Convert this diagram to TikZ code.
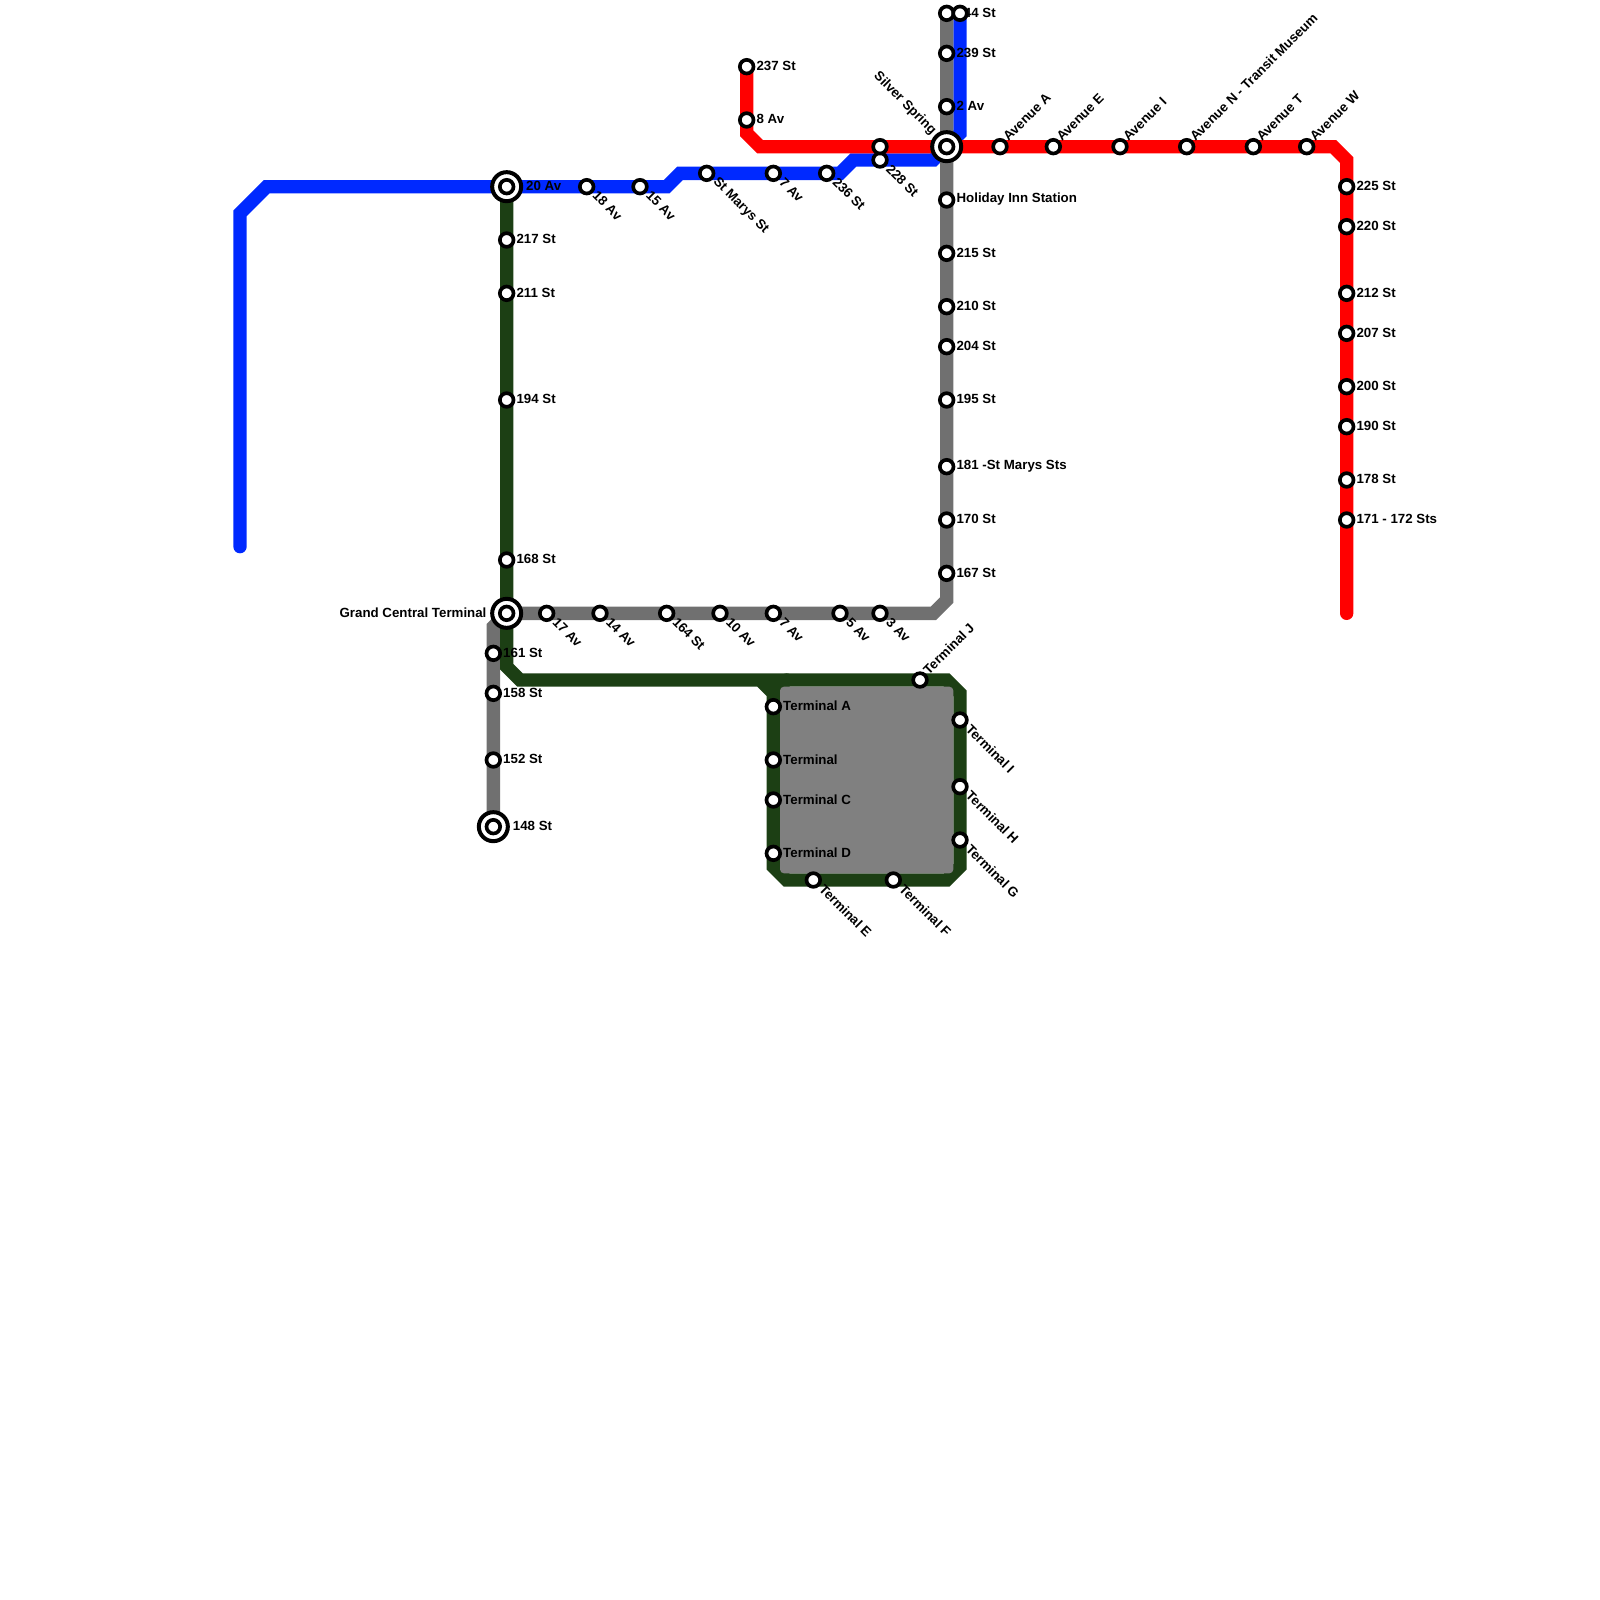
\documentclass[tikz,border=0pt]{standalone}
\usepackage{fontspec}
\setmainfont{Liberation Sans}
\pgfdeclarelayer{lines}
\pgfsetlayers{lines,main}
\definecolor{lineblue}{HTML}{0029FF}
\definecolor{linered}{HTML}{FF0000}
\definecolor{linegray}{HTML}{707070}
\definecolor{linegreen}{HTML}{1C3F14}
\definecolor{yardgray}{HTML}{808080}
\tikzset{
    route/.style={line width=0.4cm, line join=miter, line cap=round},
    station/.style={circle, draw=black, fill=white, line width=0.11cm, minimum size=0.41cm, inner sep=0pt},
    hub/.style={circle, draw=black, fill=white, line width=0.12cm, minimum size=0.87cm, inner sep=0pt},
    label/.style={font=\fontsize{11.35}{13}\selectfont\bfseries, inner sep=0pt, text=black},
    lblright/.style={label, anchor=west},
    lbldown/.style={label, anchor=west, rotate=-45},
    lblup/.style={label, anchor=west, rotate=45},
}
\begin{document}
\begin{tikzpicture}[x=0.4cm, y=-0.4cm]
    \useasboundingbox (0,0) rectangle (120,120);
    % labels first, the stations sit on them
    \foreach \x/\y/\t in {71/4/239 St, 71/8/2 Av, 56/5/237 St, 56/9/8 Av,
        71/15/Holiday Inn Station, 71/19/215 St, 71/23/210 St, 71/26/204 St, 71/30/195 St,
        71/35/181 -St Marys Sts, 71/39/170 St, 71/43/167 St,
        38/18/217 St, 38/22/211 St, 38/30/194 St, 38/42/168 St,
        37/49/161 St, 37/52/158 St, 37/57/152 St,
        58/53/Terminal A, 58/57/Terminal, 58/60/Terminal C, 58/64/Terminal D,
        101/14/225 St, 101/17/220 St, 101/22/212 St, 101/25/207 St,
        101/29/200 St, 101/32/190 St, 101/36/178 St, 101/39/171 - 172 Sts}
        \node[lblright] at ([xshift=0.29cm,yshift=0.02cm]\x,\y) {\t};
    \foreach \x/\y/\t in {44/14/18 Av, 48/14/15 Av, 53/13/St Marys St, 58/13/7 Av, 62/13/236 St, 66/12/228 St,
        41/46/17 Av, 45/46/14 Av, 50/46/164 St, 54/46/10 Av, 58/46/7 Av, 63/46/5 Av, 66/46/3 Av,
        61/66/Terminal E, 67/66/Terminal F, 72/54/Terminal I, 72/59/Terminal H, 72/63/Terminal G}
        \node[lbldown] at ([xshift=0.25cm,yshift=-0.2cm]\x,\y) {\t};
    \foreach \x/\y/\t in {75/11/Avenue A, 79/11/Avenue E, 84/11/Avenue I, 89/11/Avenue N - Transit Museum,
        94/11/Avenue T, 98/11/Avenue W, 69/51/Terminal J}
        \node[lblup] at ([xshift=0.16cm,yshift=0.24cm]\x,\y) {\t};
    \node[lblright] at ([xshift=0.58cm,yshift=0.02cm]38,14) {20 Av};
    \node[lblright] at ([xshift=0.58cm,yshift=0.02cm]37,62) {148 St};
    \node[lblright] at ([xshift=0.11cm,yshift=0.02cm]72,1) {44 St};
    \node[label, anchor=east] at ([xshift=-0.6cm,yshift=0.02cm]38,46) {Grand Central Terminal};
    \node[label, anchor=east, rotate=-45] at ([xshift=-0.38cm,yshift=0.42cm]71,11) {Silver Spring};
    % stations
    \foreach \n/\x/\y in {gTop/71/1, g239/71/4, g2av/71/8, gHoliday/71/15, g215/71/19, g210/71/23, g204/71/26,
        g195/71/30, g181/71/35, g170/71/39, g167/71/43, g17av/41/46, g14av/45/46, g164/50/46, g10av/54/46,
        g7av/58/46, g5av/63/46, g3av/66/46, g161/37/49, g158/37/52, g152/37/57,
        b44/72/1, b18av/44/14, b15av/48/14, bMarys/53/13, b7av/58/13, b236/62/13, b228/66/12,
        r237/56/5, r8av/56/9, rUpper/66/11, rA/75/11, rE/79/11, rI/84/11, rN/89/11, rT/94/11, rW/98/11,
        r225/101/14, r220/101/17, r212/101/22, r207/101/25, r200/101/29, r190/101/32, r178/101/36, r171/101/39,
        t217/38/18, t211/38/22, t194/38/30, t168/38/42, tA/58/53, tB/58/57, tC/58/60, tD/58/64,
        tE/61/66, tF/67/66, tG/72/63, tH/72/59, tI/72/54, tJ/69/51}
        \node[station] (\n) at (\x,\y) {};
    \foreach \n/\x/\y in {silver/71/11, central/38/14, grand/38/46, end148/37/62} {
        \node[hub] (\n) at (\x,\y) {};
        \node[station] at (\n) {};
    }
    % bends and line ends
    \foreach \n/\x/\y in {bStart/18/41, b1/18/16, b2/20/14, b3/50/14, b4/51/13, b5/63/13, b6/64/12, b7/70/12, b8/72/10,
        r1/56/10, r2/57/11, r3/100/11, r4/101/12, rEnd/101/46,
        g1/71/45, g2/70/46, g3/38/46, g4/37/47,
        t1/38/50, t2/39/51, t3/71/51, t4/72/52, t5/72/65, t6/71/66, t7/59/66, t8/58/65, t9/58/52, t10/57/51, t11/59/51}
        \coordinate (\n) at (\x,\y);
    \begin{pgfonlayer}{lines}
        \draw[route, lineblue] (bStart) -- (b1) -- (b2) -- (b3) -- (b4) -- (b5) -- (b6) -- (b7) -- (b8) -- (b44.center);
        \draw[route, linegray] (gTop.center) -- (g1) -- (g2) -- (g3) -- (g4) -- (end148.center);
        \draw[route, linegreen] (central.center) -- (t1) -- (t2) -- (t3) -- (t4) -- (t5) -- (t6) -- (t7) -- (t8) -- (t9) -- (t10);
        \draw[route, linegreen] (t9) -- (t11);
        \fill[yardgray, rounded corners=0.12cm] (58.5,51.5) rectangle (71.5,65.5);
        \draw[route, linered] (r237.center) -- (r1) -- (r2) -- (r3) -- (r4) -- (rEnd);
    \end{pgfonlayer}
\end{tikzpicture}
\end{document}
